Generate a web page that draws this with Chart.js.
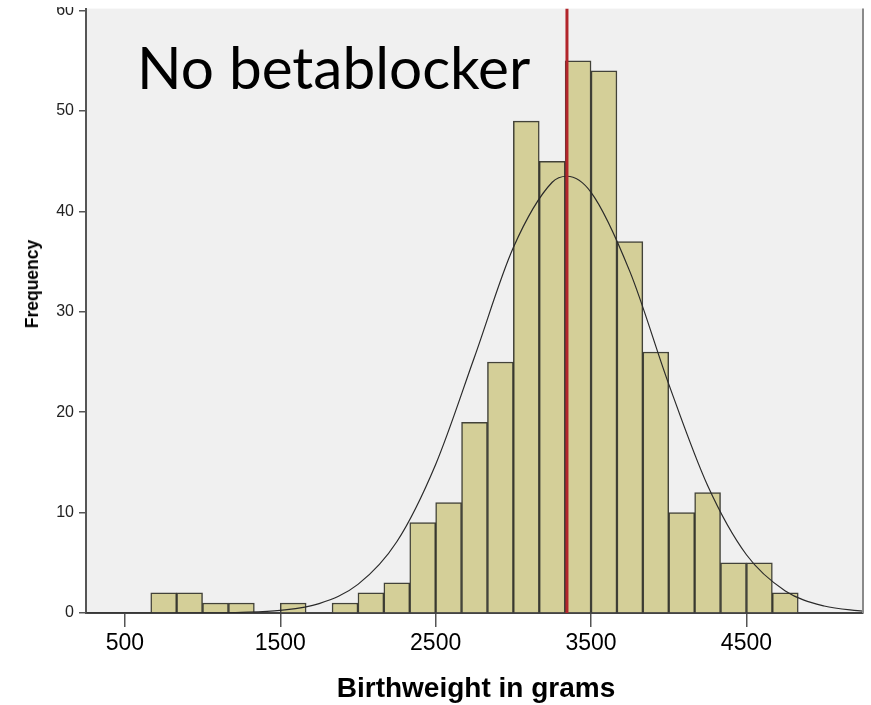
<!DOCTYPE html>
<html>
<head>
<meta charset="utf-8">
<script src="https://cdn.jsdelivr.net/npm/chart.js@4/dist/chart.umd.min.js"></script>
<style>
  html, body { margin: 0; padding: 0; background: #ffffff; }
  #wrap { position: relative; width: 871px; height: 705px; overflow: hidden; }
  #c { position: absolute; left: 0; top: -6px; }
  .lbl { position: absolute; white-space: nowrap; color: #000; }
  #title { left: 137px; top: 37px; font: 58.5px Lato, "Open Sans", sans-serif; line-height: 58px; }
  #ytitle { left: 31.5px; top: 283.5px; font: bold 17.5px "Liberation Sans", Arial, sans-serif; line-height: 20px;
            transform: translate(-50%, -50%) rotate(-90deg); }
  #xtitle { left: 476px; top: 672px; font: bold 28px "Liberation Sans", Arial, sans-serif; line-height: 32px;
            transform: translateX(-50%); }
  #band { position: absolute; left: 0; top: 0; width: 871px; height: 7px; background: #ffffff; }
</style>
</head>
<body>
<div id="wrap">
  <canvas id="c" width="871" height="711"></canvas>
  <div id="band"></div>
  <div class="lbl" id="title">No betablocker</div>
  <div class="lbl" id="ytitle">Frequency</div>
  <div class="lbl" id="xtitle">Birthweight in grams</div>
</div>
<script>
// ---- data ----
const binWidth = 166.67; // grams per bin
const binLower = [666.67, 833.33, 1000, 1166.67, 1333.33, 1500, 1666.67, 1833.33, 2000, 2166.67,
                  2333.33, 2500, 2666.67, 2833.33, 3000, 3166.67, 3333.33, 3500, 3666.67, 3833.33,
                  4000, 4166.67, 4333.33, 4500, 4666.67];
const counts   = [2, 2, 1, 1, 0, 1, 0, 1, 2, 3,
                  9, 11, 19, 25, 49, 45, 55, 54, 37, 26,
                  10, 12, 5, 5, 2];
const curveX = [250, 750, 1000, 1250, 1500, 1750, 2000, 2250, 2500, 2750, 3000, 3250, 3345,
                3500, 3750, 4000, 4250, 4500, 4750, 5000, 5250];
const curveY = [0, 0, 0.01, 0.06, 0.26, 0.94, 2.85, 7.1, 14.8, 25.5, 36.4, 42.9, 43.5,
                41.9, 34.0, 22.8, 12.7, 5.8, 2.2, 0.7, 0.18];
const meanLine = 3345;
const xTickValues = [500, 1500, 2500, 3500, 4500];
const yTickValues = [0, 10, 20, 30, 40, 50, 60];

const barData = binLower.map((lo, i) => ({ x: lo + binWidth / 2, y: counts[i] }));
const curveData = curveX.map((x, i) => ({ x: x, y: curveY[i] }));
const yMax = 60.2;

const bgPlugin = {
  id: 'plotbg',
  beforeDraw(chart) {
    const { ctx, chartArea: a } = chart;
    ctx.save();
    ctx.fillStyle = '#f0f0f0';
    ctx.fillRect(a.left, a.top, a.right - a.left, a.bottom - a.top);
    ctx.restore();
  },
  afterDraw(chart) {
    const { ctx, chartArea: a } = chart;
    ctx.save();
    ctx.strokeStyle = '#8a8a8a';
    ctx.lineWidth = 2;
    ctx.beginPath();
    ctx.moveTo(a.right, a.top);
    ctx.lineTo(a.right, a.bottom);
    ctx.stroke();
    ctx.restore();
  }
};

new Chart(document.getElementById('c'), {
  type: 'bar',
  data: {
    datasets: [
      {
        type: 'line',
        data: [{ x: meanLine, y: 0 }, { x: meanLine, y: yMax }],
        borderColor: '#b2252b',
        borderWidth: 3,
        pointRadius: 0,
        order: 0
      },
      {
        type: 'line',
        data: curveData,
        borderColor: '#2a2a2a',
        borderWidth: 1.2,
        pointRadius: 0,
        cubicInterpolationMode: 'monotone',
        order: 1
      },
      {
        type: 'bar',
        data: barData,
        backgroundColor: '#d4cf98',
        borderColor: 'rgba(35,35,25,0.85)',
        borderWidth: 1.5,
        barPercentage: 1,
        categoryPercentage: 1,
        order: 2
      }
    ]
  },
  options: {
    responsive: false,
    animation: false,
    events: [],
    layout: { padding: { left: 0, right: 8, top: 3, bottom: 0 } },
    plugins: { legend: { display: false }, tooltip: { enabled: false } },
    scales: {
      x: {
        type: 'linear',
        min: 250,
        max: 5250,
        offset: false,
        afterBuildTicks: s => { s.ticks = xTickValues.map(v => ({ value: v })); },
        afterFit: s => { s.height = 92; },
        ticks: { color: '#000', font: { family: '"Liberation Sans", Arial, sans-serif', size: 23 }, padding: 3, maxRotation: 0,
                 callback: v => String(v) },
        grid: { display: true, offset: false, drawOnChartArea: false, drawTicks: true, tickLength: 14, color: '#555', lineWidth: 1.5 },
        border: { display: true, color: '#444', width: 2 }
      },
      y: {
        type: 'linear',
        min: 0,
        max: yMax,
        afterBuildTicks: s => { s.ticks = yTickValues.map(v => ({ value: v })); },
        afterFit: s => { s.width = 86; },
        ticks: { color: '#222', font: { family: '"Liberation Sans", Arial, sans-serif', size: 16 }, padding: 5,
                 callback: v => String(v) },
        grid: { display: true, drawOnChartArea: false, drawTicks: true, tickLength: 7, color: '#555', lineWidth: 1.5 },
        border: { display: true, color: '#555', width: 2 }
      }
    }
  },
  plugins: [bgPlugin]
});
</script>
</body>
</html>
